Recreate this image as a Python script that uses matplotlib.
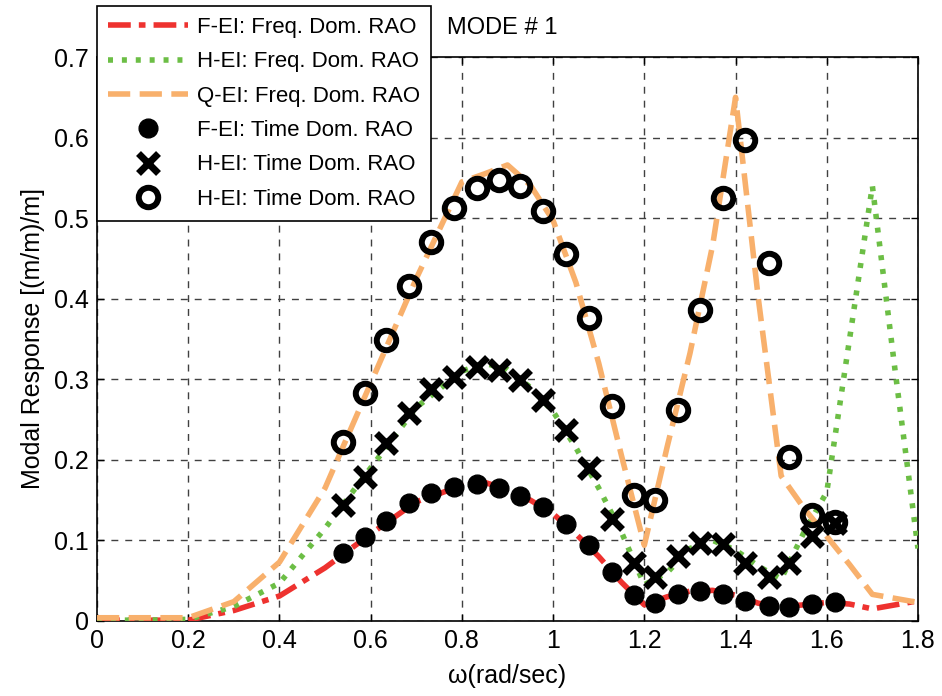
import matplotlib
matplotlib.use("Agg")
import matplotlib.pyplot as plt
from matplotlib import font_manager

# ---------------------------------------------------------------------------
# Data
# ---------------------------------------------------------------------------
# frequency-domain RAO curves
omega_fd = [0.0, 0.1, 0.2, 0.3, 0.4, 0.5, 0.6, 0.7, 0.8, 0.85, 0.9, 0.95,
            1.0, 1.05, 1.1, 1.15, 1.2, 1.25, 1.3, 1.35, 1.4, 1.45, 1.5,
            1.55, 1.6, 1.65, 1.7, 1.75, 1.8]
f_ei_fd = [0.001, 0.001, 0.001, 0.013, 0.031, 0.066, 0.108, 0.148, 0.168,
           0.172, 0.163, 0.150, 0.133, 0.108, 0.080, 0.048, 0.020, 0.030,
           0.037, 0.038, 0.032, 0.022, 0.018, 0.020, 0.023, 0.021, 0.015,
           0.020, 0.025]
h_ei_fd = [0.001, 0.001, 0.002, 0.018, 0.047, 0.115, 0.190, 0.265, 0.310,
           0.320, 0.312, 0.290, 0.260, 0.215, 0.165, 0.110, 0.045, 0.060,
           0.090, 0.100, 0.088, 0.068, 0.052, 0.110, 0.160, 0.350, 0.540,
           0.310, 0.090]
q_ei_fd = [0.004, 0.004, 0.004, 0.024, 0.073, 0.165, 0.295, 0.425, 0.545,
           0.555, 0.566, 0.541, 0.497, 0.420, 0.320, 0.205, 0.094, 0.216,
           0.332, 0.467, 0.650, 0.400, 0.180, 0.140, 0.105, 0.070, 0.033,
           0.028, 0.023]

# time-domain RAO points
omega_td = [0.539, 0.588, 0.634, 0.684, 0.732, 0.783, 0.833, 0.881, 0.927,
            0.978, 1.028, 1.079, 1.129, 1.177, 1.223, 1.274, 1.323, 1.372,
            1.421, 1.473, 1.517, 1.568, 1.618]
f_ei_td = [0.084, 0.104, 0.124, 0.146, 0.159, 0.166, 0.170, 0.165, 0.155,
           0.142, 0.120, 0.094, 0.061, 0.032, 0.022, 0.033, 0.037, 0.034,
           0.025, 0.018, 0.017, 0.021, 0.023]
h_ei_td = [0.144, 0.179, 0.221, 0.258, 0.288, 0.303, 0.315, 0.311, 0.299,
           0.274, 0.237, 0.190, 0.127, 0.072, 0.055, 0.081, 0.097, 0.096,
           0.072, 0.055, 0.072, 0.105, 0.122]
q_ei_td = [0.222, 0.283, 0.349, 0.416, 0.471, 0.512, 0.537, 0.547, 0.540,
           0.509, 0.455, 0.376, 0.267, 0.156, 0.150, 0.262, 0.386, 0.525,
           0.597, 0.444, 0.203, 0.132, 0.123]

x_ticks = [0, 0.2, 0.4, 0.6, 0.8, 1.0, 1.2, 1.4, 1.6, 1.8]
x_tick_labels = ["0", "0.2", "0.4", "0.6", "0.8", "1", "1.2", "1.4", "1.6", "1.8"]
y_ticks = [0, 0.1, 0.2, 0.3, 0.4, 0.5, 0.6, 0.7]
y_tick_labels = ["0", "0.1", "0.2", "0.3", "0.4", "0.5", "0.6", "0.7"]

RED = "#ee322f"
GREEN = "#6cbe45"
ORANGE = "#f8b06c"


def _has_font(name):
    try:
        font_manager.findfont(name, fallback_to_default=False)
        return True
    except Exception:
        return False


BASE = "Liberation Sans" if _has_font("Liberation Sans") else "DejaVu Sans"

plt.rcParams.update({
    "font.family": BASE,
    "lines.scale_dashes": True,
})

fig = plt.figure(figsize=(9.42, 6.96), dpi=100)
ax = fig.add_axes([0.103, 0.1078, 0.8715, 0.8103])

lw = 4.0
ax.plot(omega_fd, f_ei_fd, color=RED, lw=lw, dashes=(4.1, 1.45, 1.2, 1.45),
        dash_capstyle="butt", label="F-EI: Freq. Dom. RAO", zorder=3)
ax.plot(omega_fd, h_ei_fd, color=GREEN, lw=lw, dashes=(0.9, 1.6),
        dash_capstyle="butt", label="H-EI: Freq. Dom. RAO", zorder=3)
ax.plot(omega_fd, q_ei_fd, color=ORANGE, lw=lw, dashes=(4.0, 1.7),
        dash_capstyle="butt", label="Q-EI: Freq. Dom. RAO", zorder=3)

ax.plot(omega_td, f_ei_td, ls="none", marker="o", ms=13.5, color="black",
        label="F-EI: Time Dom. RAO", zorder=4)
ax.plot(omega_td, h_ei_td, ls="none", marker="x", ms=14, mew=5, color="black",
        label="H-EI: Time Dom. RAO", zorder=4)
ax.plot(omega_td, q_ei_td, ls="none", marker="o", ms=14, mew=4.3,
        mfc="none", mec="black", label="H-EI: Time Dom. RAO", zorder=4)

ax.set_xlim(0, 1.8)
ax.set_ylim(0, 0.7)
ax.set_xticks(x_ticks)
ax.set_xticklabels(x_tick_labels, fontsize=18)
ax.set_yticks(y_ticks)
ax.set_yticklabels(y_tick_labels, fontsize=18)
ax.tick_params(direction="in", length=5, width=1, top=True, right=True, pad=6)
ax.grid(True, color="#404040", linestyle=(0, (5, 5)), linewidth=1)
ax.set_axisbelow(True)
for sp in ax.spines.values():
    sp.set_linewidth(1.2)

ax.set_xlabel("\u03c9(rad/sec)", fontsize=18, labelpad=8)
ax.set_ylabel("Modal Response [(m/m)/m]", fontsize=18, labelpad=6)

leg = ax.legend(loc="upper left", bbox_to_anchor=(0.0, 1.0904),
                borderaxespad=0, fontsize=16, handlelength=3.6,
                handletextpad=0.4, labelspacing=0.6, borderpad=0.5,
                numpoints=1, fancybox=False, framealpha=1, edgecolor="black")
leg.get_frame().set_linewidth(1.2)
leg.set_zorder(10)

fig.text(0.4745, 0.96, "MODE # 1", fontsize=17, ha="left", va="center")

fig.savefig("out.png", dpi=100)
